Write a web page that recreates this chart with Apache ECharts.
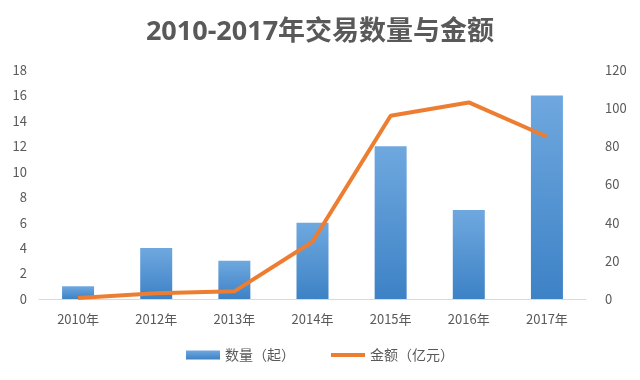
<!DOCTYPE html>
<html>
<head>
<meta charset="utf-8">
<script src="https://cdn.jsdelivr.net/npm/echarts@6/dist/echarts.min.js"></script>
<style>html,body{margin:0;padding:0;background:#fff}#c{width:640px;height:380px}</style>
</head>
<body>
<div id="c"></div>
<script>
const categories = ['2010年','2012年','2013年','2014年','2015年','2016年','2017年'];
const countValues = [1, 4, 3, 6, 12, 7, 16];
const amountValues = [0.5, 3, 4, 30, 96, 103, 85];
const titleText = '2010-2017年交易数量与金额';
const countName = '数量（起）';
const amountName = '金额（亿元）';

const chart = echarts.init(document.getElementById('c'), null, {renderer: 'canvas'});
const font = '"Noto Sans CJK SC", "Open Sans", sans-serif';
chart.setOption({
  animation: false,
  title: {
    text: titleText, left: 'center', top: 14,
    textStyle: {fontSize: 27, fontWeight: 'bold', color: '#595959', fontFamily: '"Open Sans", "Noto Sans CJK SC", sans-serif'}
  },
  legend: {
    bottom: 13, left: 'center', itemGap: 36, itemWidth: 34, itemHeight: 9,
    textStyle: {fontSize: 14, color: '#595959', fontFamily: font},
    data: [
      {name: countName, icon: 'rect'},
      {name: amountName, icon: 'path://M0,0 L0.01,0 M34,9 L33.99,9 M0,2.5 L34,2.5 L34,6.5 L0,6.5 Z', itemStyle: {color: '#ed7d31'}}
    ]
  },
  grid: {left: 39, right: 54, top: 70, bottom: 81},
  xAxis: {
    type: 'category', data: categories,
    axisLine: {lineStyle: {color: '#d9d9d9', width: 1}},
    axisTick: {show: false},
    axisLabel: {color: '#595959', fontSize: 13, margin: 14, fontFamily: font}
  },
  yAxis: [
    {type: 'value', min: 0, max: 18, interval: 2, splitLine: {show: false},
     axisLine: {show: false}, axisTick: {show: false},
     axisLabel: {color: '#595959', fontSize: 13, margin: 12, fontFamily: font}},
    {type: 'value', min: 0, max: 120, interval: 20, splitLine: {show: false},
     axisLine: {show: false}, axisTick: {show: false},
     axisLabel: {color: '#595959', fontSize: 13, margin: 19, fontFamily: font}}
  ],
  series: [
    {name: countName, type: 'bar', data: countValues, barWidth: 32, yAxisIndex: 0,
     itemStyle: {color: new echarts.graphic.LinearGradient(0,0,0,1,[{offset:0,color:'#6fa8df'},{offset:1,color:'#3d82c6'}])}},
    {name: amountName, type: 'line', data: amountValues, yAxisIndex: 1, symbol: 'none',
     lineStyle: {color: '#ed7d31', width: 4}, itemStyle: {color: '#ed7d31'}}
  ]
});
</script>
</body>
</html>
